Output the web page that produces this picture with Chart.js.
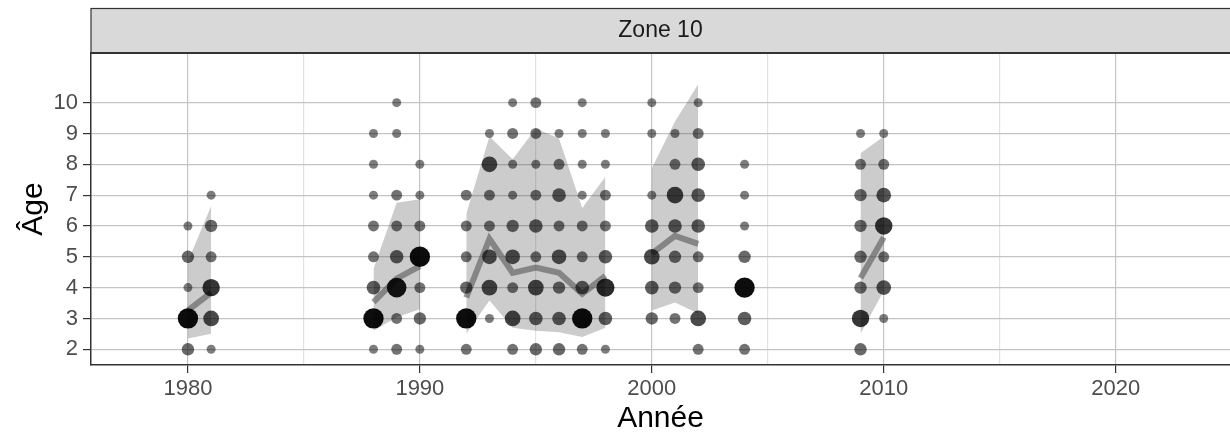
<!DOCTYPE html>
<html>
<head>
<meta charset="utf-8">
<script src="https://cdn.jsdelivr.net/npm/chart.js@4"></script>
<style>
  html, body { margin: 0; padding: 0; background: #fff; }
  #wrap { width: 1230px; height: 438px; }
</style>
</head>
<body>
<div id="wrap"><canvas id="chart" width="1230" height="438"></canvas></div>
<script>
// ages sampled (rows), years sampled (columns)
const ages = [2, 3, 4, 5, 6, 7, 8, 9, 10];
const sampleYears = [1980, 1981, 1988, 1989, 1990, 1992, 1993, 1994, 1995, 1996, 1997, 1998, 2000, 2001, 2002, 2004, 2009, 2010];

// number of fish by age 2..10 for each sampled year (0 = none)
const fishCounts = [
  [3, 12, 1, 3, 1, 0, 0, 0, 0], // 1980
  [1, 6, 8, 2, 3, 1, 0, 0, 0],  // 1981
  [1, 12, 4, 2, 2, 1, 1, 1, 0], // 1988
  [2, 2, 11, 4, 2, 2, 0, 1, 1], // 1989
  [1, 3, 2, 12, 2, 1, 1, 0, 0], // 1990
  [2, 12, 3, 2, 2, 2, 0, 0, 0], // 1992
  [0, 1, 6, 5, 2, 2, 6, 1, 0],  // 1993
  [2, 6, 2, 5, 3, 1, 1, 2, 1],  // 1994
  [3, 4, 6, 2, 4, 2, 1, 2, 2],  // 1995
  [3, 4, 3, 5, 2, 4, 2, 1, 0],  // 1996
  [2, 12, 4, 2, 2, 1, 1, 1, 1], // 1997
  [1, 4, 9, 4, 2, 2, 1, 1, 0],  // 1998
  [0, 3, 4, 6, 4, 1, 0, 1, 1],  // 2000
  [0, 2, 3, 3, 4, 7, 2, 1, 0],  // 2001
  [2, 6, 2, 2, 4, 4, 4, 2, 1],  // 2002
  [2, 4, 12, 3, 1, 1, 1, 0, 0], // 2004
  [3, 8, 3, 3, 3, 3, 2, 1, 0],  // 2009
  [0, 1, 5, 2, 8, 5, 2, 1, 0]   // 2010
];

// mean age and its band, by year
const bandYears = [1980, 1981, 1988, 1989, 1990, 1992, 1993, 1994, 1995, 1996, 1997, 1998, 2000, 2001, 2002, 2009, 2010];
const meanAge = [3.26, 3.84, 3.53, 4.29, 4.7, 3.68, 5.58, 4.48, 4.65, 4.48, 3.8, 4.38, 5.1, 5.68, 5.42, 4.31, 5.63];
const bandLow = [2.35, 2.5, 2.6, 3.04, 3.3, 2.5, 3.58, 2.7, 2.6, 2.55, 2.4, 2.7, 3.26, 3.52, 3.16, 2.5, 3.9];
const bandHigh = [4.85, 6.65, 4.6, 6.75, 6.87, 6.39, 8.9, 8.16, 9.16, 8.84, 6.58, 7.6, 7.87, 9.39, 10.6, 8.36, 8.9];

const xTicks = [1980, 1985, 1990, 1995, 2000, 2005, 2010, 2015, 2020];
const yTicks = [2, 3, 4, 5, 6, 7, 8, 9, 10];

const font = "'Liberation Sans', Arial, sans-serif";

// bubbles
const bubbles = [];
sampleYears.forEach((yr, i) => {
  fishCounts[i].forEach((n, j) => {
    if (n > 0) bubbles.push({ x: yr, y: ages[j], r: 2.3 * Math.sqrt(n) + 2.2, n: n });
  });
});

// break lines where years are missing
function withGaps(values) {
  const out = [];
  bandYears.forEach((yr, i) => {
    if (i > 0 && yr - bandYears[i - 1] > 1) out.push({ x: bandYears[i - 1] + 1, y: null });
    out.push({ x: yr, y: values[i] });
  });
  return out;
}

const stripPlugin = {
  id: "strip",
  afterDraw(chart) {
    const { ctx, chartArea } = chart;
    ctx.save();
    ctx.fillStyle = "#d9d9d9";
    ctx.fillRect(chartArea.left, 8.5, chart.width - chartArea.left + 2, 44.5);
    ctx.strokeStyle = "#333333";
    ctx.lineWidth = 1.2;
    ctx.strokeRect(chartArea.left, 8.5, chart.width - chartArea.left + 2, 44.5);
    ctx.lineWidth = 2;
    ctx.beginPath();
    ctx.moveTo(chartArea.left, 53);
    ctx.lineTo(chart.width, 53);
    ctx.stroke();
    ctx.fillStyle = "#1a1a1a";
    ctx.font = "23px " + font;
    ctx.textAlign = "center";
    ctx.textBaseline = "middle";
    ctx.fillText("Zone 10", (chartArea.left + chartArea.right) / 2, 31);
    ctx.restore();
  }
};

new Chart(document.getElementById("chart"), {
  type: "bubble",
  data: {
    datasets: [
      {
        type: "bubble",
        data: bubbles,
        borderWidth: 0,
        backgroundColor: (c) => {
          const n = c.raw && c.raw.n ? c.raw.n : 1;
          return "rgba(0,0,0," + Math.min(0.95, 0.47 + 0.04 * n) + ")";
        }
      },
      {
        type: "line",
        data: withGaps(meanAge),
        borderColor: "rgba(85,85,85,0.6)",
        borderWidth: 6,
        pointRadius: 0,
        spanGaps: false,
        fill: false
      },
      {
        type: "line",
        data: withGaps(bandHigh),
        borderWidth: 0,
        borderColor: "rgba(0,0,0,0)",
        pointRadius: 0,
        spanGaps: false,
        backgroundColor: "rgba(51,51,51,0.25)",
        fill: "+1"
      },
      {
        type: "line",
        data: withGaps(bandLow),
        borderWidth: 0,
        borderColor: "rgba(0,0,0,0)",
        pointRadius: 0,
        spanGaps: false,
        fill: false
      }
    ]
  },
  options: {
    responsive: false,
    animation: false,
    events: [],
    layout: { autoPadding: false, padding: { top: 53, right: 0, left: 0, bottom: 0 } },
    plugins: {
      legend: { display: false },
      tooltip: { enabled: false }
    },
    scales: {
      x: {
        type: "linear",
        min: 1975.82,
        max: 2024.93,
        afterBuildTicks: (s) => { s.ticks = xTicks.map((v) => ({ value: v })); },
        afterFit: (s) => { s.height = 73; },
        grid: {
          color: (c) => (c.tick && c.tick.value % 10 === 0 ? "#c4c4c4" : "#e2e2e2"),
          tickColor: (c) => (c.tick && c.tick.value % 10 === 0 ? "#333333" : "rgba(0,0,0,0)"),
          tickLength: 8,
          lineWidth: 1.2
        },
        border: { color: "#333333", width: 1.5 },
        ticks: {
          autoSkip: false,
          maxRotation: 0,
          padding: 3,
          color: "#4d4d4d",
          font: { family: font, size: 22 },
          callback: (v) => (v % 10 === 0 ? String(v) : "")
        },
        title: {
          display: true,
          text: "Année",
          color: "#000000",
          font: { family: font, size: 30 },
          padding: { top: 0, bottom: 1 }
        }
      },
      y: {
        type: "linear",
        min: 1.49,
        max: 11.61,
        afterBuildTicks: (s) => { s.ticks = yTicks.map((v) => ({ value: v })); },
        afterFit: (s) => { s.width = 91; },
        grid: {
          color: "#c4c4c4",
          tickColor: "#333333",
          tickLength: 8,
          lineWidth: 1.2
        },
        border: { color: "#333333", width: 1.5 },
        ticks: {
          padding: 5,
          color: "#4d4d4d",
          font: { family: font, size: 22 }
        },
        title: {
          display: true,
          text: "Âge",
          color: "#000000",
          font: { family: font, size: 30 },
          padding: { top: 16, bottom: 0 }
        }
      }
    }
  },
  plugins: [stripPlugin]
});
</script>
</body>
</html>
